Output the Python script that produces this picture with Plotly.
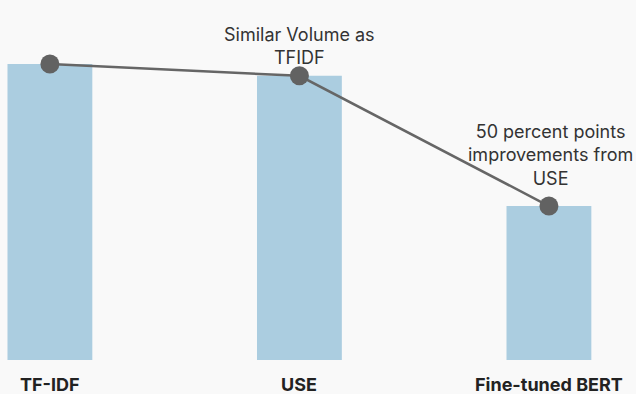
import plotly.graph_objects as go

# Relative volume per model (TF-IDF = 100)
models = ["TF-IDF", "USE", "Fine-tuned BERT"]
volumes = [100, 96, 52]
notes = ["", "Similar Volume as<br>TFIDF", "50 percent points<br>improvements from<br>USE"]

bar_color = "#abcde0"
dot_color = "#626262"
bg = "#f9f9f9"
text_color = "#333333"
font_family = "Inter, Roboto, sans-serif"

x_pos = list(range(len(models)))

fig = go.Figure()
fig.add_trace(go.Bar(
    x=x_pos, y=volumes, width=0.34,
    marker=dict(color=bar_color, line=dict(width=0)),
    hoverinfo="skip",
))
fig.add_trace(go.Scatter(
    x=x_pos, y=volumes, mode="lines+markers",
    line=dict(color="#666666", width=2.5),
    marker=dict(color=dot_color, size=19),
    hoverinfo="skip",
))

annotations = []
for i, (name, v, note) in enumerate(zip(models, volumes, notes)):
    annotations.append(dict(
        x=i, y=0, xref="x", yref="y", text=f"<b>{name}</b>",
        showarrow=False, yanchor="middle", yshift=-24,
        font=dict(family=font_family, size=18, color="#222222"),
    ))
    if note:
        annotations.append(dict(
            x=i, y=v, xref="x", yref="y", text=note,
            showarrow=False, yanchor="bottom", xshift=2 if i == 2 else 0,
            yshift=6 if i == 1 else 15,
            font=dict(family=font_family, size=18, color=text_color),
        ))

fig.update_layout(
    width=636, height=394,
    margin=dict(l=0, r=0, t=0, b=34),
    paper_bgcolor=bg, plot_bgcolor=bg,
    showlegend=False,
    annotations=annotations,
    xaxis=dict(range=[-0.2, 2.349], showgrid=False, zeroline=False,
               showticklabels=False, showline=False),
    yaxis=dict(range=[0, 121.6], showgrid=False, zeroline=False,
               showticklabels=False, showline=False),
)

fig.write_html("out.html")
